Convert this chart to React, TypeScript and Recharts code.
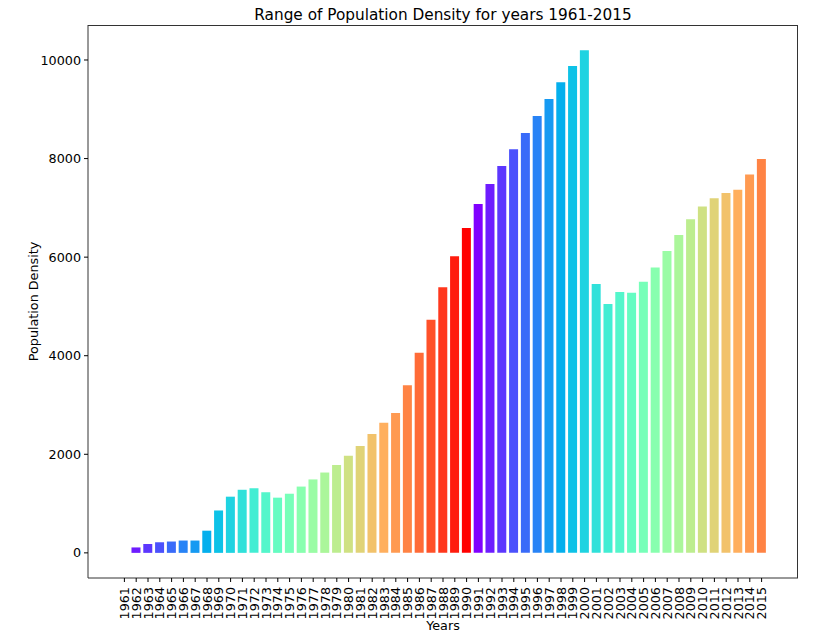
import React from 'react';
import { BarChart, Bar, XAxis, YAxis, Cell } from 'recharts';

const years = [
  '1961', '1962', '1963', '1964', '1965', '1966', '1967', '1968', '1969', '1970',
  '1971', '1972', '1973', '1974', '1975', '1976', '1977', '1978', '1979', '1980',
  '1981', '1982', '1983', '1984', '1985', '1986', '1987', '1988', '1989', '1990',
  '1991', '1992', '1993', '1994', '1995', '1996', '1997', '1998', '1999', '2000',
  '2001', '2002', '2003', '2004', '2005', '2006', '2007', '2008', '2009', '2010',
  '2011', '2012', '2013', '2014', '2015',
];

const density = [
  0, 110, 180, 215, 230, 250, 250, 450, 860, 1140,
  1280, 1310, 1230, 1120, 1200, 1345, 1490, 1630, 1785, 1970,
  2170, 2410, 2640, 2840, 3400, 4060, 4730, 5390, 6020, 6590,
  7080, 7485, 7850, 8190, 8520, 8865, 9210, 9550, 9880, 10200,
  5455, 5050, 5295, 5275, 5500, 5790, 6125, 6450, 6770, 7025,
  7195, 7300, 7365, 7675, 7990,
];

const yTicks = [0, 2000, 4000, 6000, 8000, 10000];

const data = years.map((year, i) => ({ year, value: density[i] }));

const FONT = '"DejaVu Sans", sans-serif';
const N_COLORS = 30;

// matplotlib "rainbow" colormap
const rainbow = (t: number) => {
  const clip = (v: number) => Math.max(0, Math.min(1, v));
  const r = clip(Math.abs(2 * t - 0.5));
  const g = clip(Math.sin(Math.PI * t));
  const b = clip(Math.cos((Math.PI * t) / 2));
  const hex = (v: number) => Math.round(v * 255).toString(16).padStart(2, '0');
  return `#${hex(r)}${hex(g)}${hex(b)}`;
};

const XTick = (props: any) => {
  const { x, y, payload } = props;
  const ty = y + 3;
  return (
    <text
      x={x}
      y={ty}
      transform={`rotate(-90 ${x} ${ty})`}
      textAnchor="end"
      dominantBaseline="central"
      fontFamily={FONT}
      fontSize={12.75}
      fill="#000"
    >
      {payload.value}
    </text>
  );
};

export default function App() {
  return (
    <div style={{ position: 'absolute', left: 0, top: 0, width: 816, height: 633, background: '#fff' }}>
      <div
        style={{
          position: 'absolute',
          left: 88,
          width: 710,
          top: 6,
          textAlign: 'center',
          fontFamily: FONT,
          fontSize: 15.3,
          color: '#000',
        }}
      >
        Range of Population Density for years 1961-2015
      </div>
      <BarChart
        width={816}
        height={633}
        data={data}
        margin={{ top: 25, right: 18, left: 8, bottom: 0 }}
        barCategoryGap="10%"
      >
        <XAxis
          dataKey="year"
          interval={0}
          height={55}
          padding={{ left: 30.5, right: 30.5 }}
          tickSize={4}
          tick={<XTick />}
          tickLine={{ stroke: '#000' }}
          axisLine={{ stroke: '#333' }}
          label={{
            value: 'Years',
            position: 'insideBottom',
            offset: 3,
            fontFamily: FONT,
            fontSize: 12.75,
            fill: '#000',
          }}
        />
        <YAxis
          width={80}
          domain={[-510, 10710]}
          allowDataOverflow
          ticks={yTicks}
          tickSize={4}
          tickMargin={3}
          tick={{ fontFamily: FONT, fontSize: 12.75, fill: '#000' }}
          tickLine={{ stroke: '#000' }}
          axisLine={{ stroke: '#333' }}
          label={{
            value: 'Population Density',
            angle: -90,
            position: 'center',
            dx: -15,
            fontFamily: FONT,
            fontSize: 12.75,
            fill: '#000',
          }}
        />
        <Bar dataKey="value" isAnimationActive={false}>
          {data.map((entry, i) => (
            <Cell key={`cell-${entry.year}`} fill={rainbow((i % N_COLORS) / (N_COLORS - 1))} />
          ))}
        </Bar>
      </BarChart>
      <div
        style={{
          position: 'absolute',
          left: 88,
          top: 25,
          width: 710,
          height: 553,
          boxSizing: 'border-box',
          borderTop: '1px solid #333',
          borderRight: '1px solid #333',
          pointerEvents: 'none',
        }}
      />
    </div>
  );
}
